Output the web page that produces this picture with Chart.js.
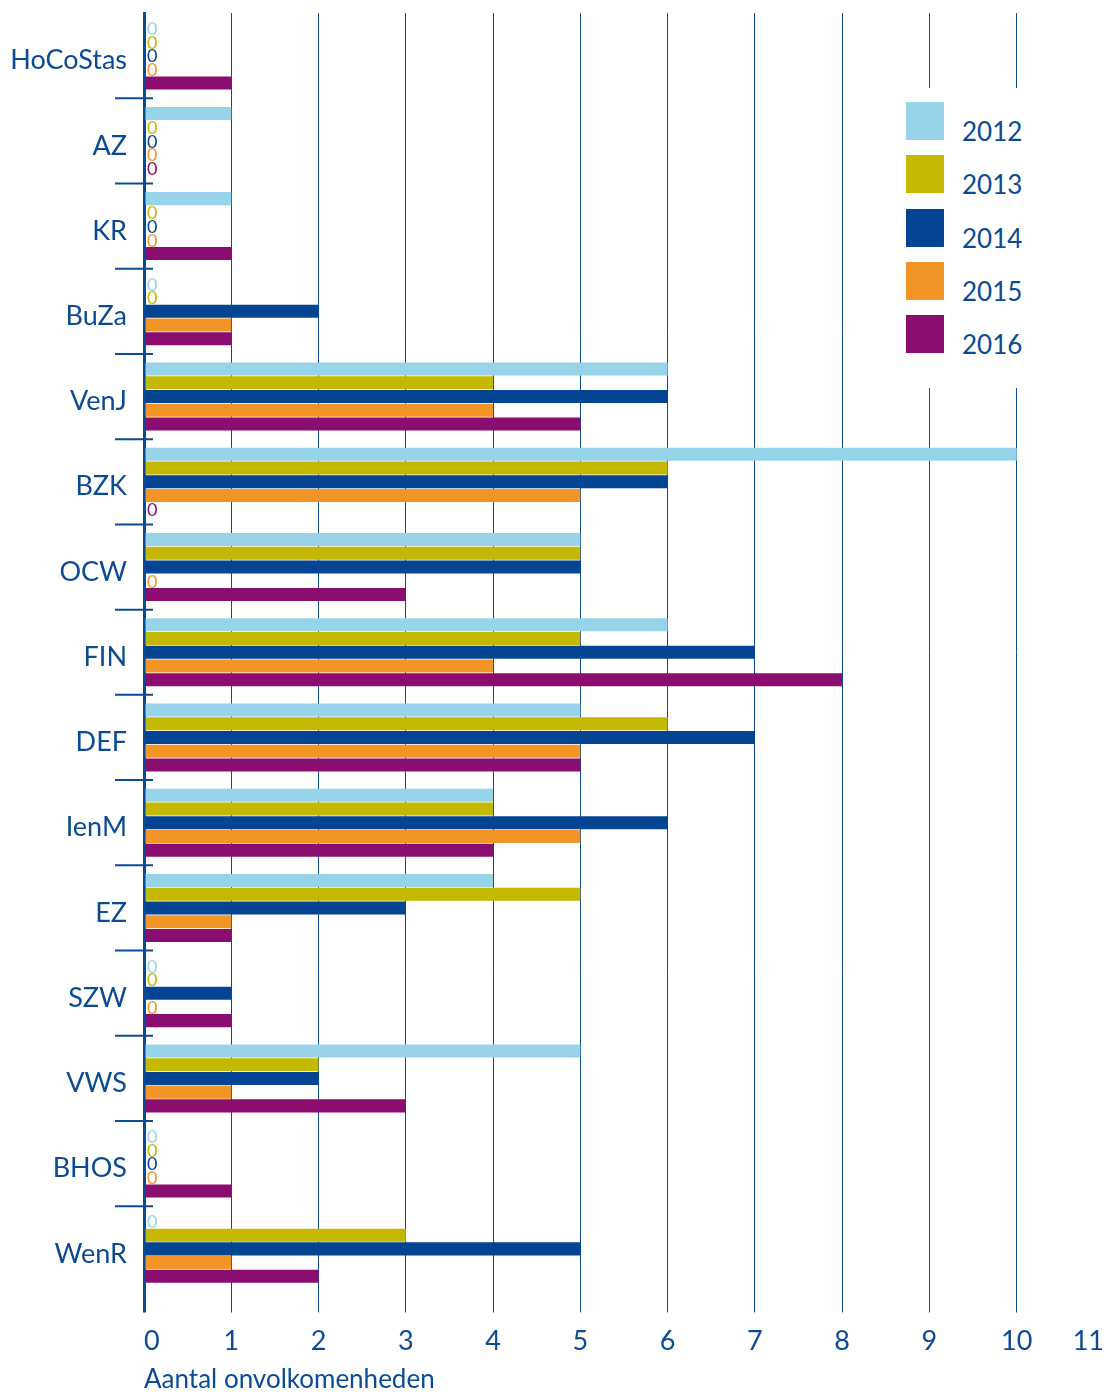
<!DOCTYPE html>
<html>
<head>
<meta charset="utf-8">
<script src="https://cdn.jsdelivr.net/npm/chart.js@4"></script>
<style>
    body { margin: 0; background: #fff; }
    #wrap { position: relative; width: 1104px; height: 1392px; }
    #legend {
        position: absolute; left: 890px; top: 88px; width: 150px; height: 300px;
        background: #fff; font-family: Lato, sans-serif; font-size: 26px; color: #0b4a94;
    }
    #legend .item { position: absolute; left: 16px; height: 38px; }
    #legend .box { position: absolute; left: 0; top: 0; width: 38px; height: 38px; }
    #legend .txt { position: absolute; left: 56px; top: 10px; line-height: 38px; }
</style>
</head>
<body>
<div id="wrap">
    <canvas id="myChart"></canvas>
    <div id="legend"></div>
</div>
<script>
const BLUE = '#0b4a94';

const labels = ['HoCoStas', 'AZ', 'KR', 'BuZa', 'VenJ', 'BZK', 'OCW', 'FIN', 'DEF', 'IenM', 'EZ', 'SZW', 'VWS', 'BHOS', 'WenR'];
const years = ['2012', '2013', '2014', '2015', '2016'];
const colors = ['#97d4e9', '#c4b800', '#034592', '#f39426', '#8b0d70'];

const v2012 = [0, 1, 1, 0, 6, 10, 5, 6, 5, 4, 4, 0, 5, 0, 0];
const v2013 = [0, 0, 0, 0, 4, 6, 5, 5, 6, 4, 5, 0, 2, 0, 3];
const v2014 = [0, 0, 0, 2, 6, 6, 5, 7, 7, 6, 3, 1, 2, 0, 5];
const v2015 = [0, 0, 0, 1, 4, 5, 0, 4, 5, 5, 1, 0, 1, 0, 1];
const v2016 = [1, 0, 1, 1, 5, 0, 3, 8, 5, 4, 1, 1, 3, 1, 2];
const values = [v2012, v2013, v2014, v2015, v2016];

const datasets = years.map(function (y, i) {
    return {
        label: y,
        data: values[i],
        backgroundColor: colors[i],
        borderWidth: 0,
        barPercentage: 0.95,
        categoryPercentage: 0.805
    };
});

// "0" labels next to the axis for empty values
const zeroLabels = {
    id: 'zeroLabels',
    afterDatasetsDraw: function (chart) {
        const ctx = chart.ctx;
        const x0 = chart.scales.x.getPixelForValue(0);
        ctx.save();
        ctx.font = '18px Lato, sans-serif';
        ctx.textBaseline = 'middle';
        ctx.textAlign = 'left';
        chart.data.datasets.forEach(function (ds, i) {
            const meta = chart.getDatasetMeta(i);
            ds.data.forEach(function (v, j) {
                if (v === 0) {
                    ctx.fillStyle = ds.backgroundColor;
                    ctx.fillText('0', x0 + 3, meta.data[j].y + 1);
                }
            });
        });
        ctx.restore();
    }
};

// short separators between categories on the y axis
const catTicks = {
    id: 'catTicks',
    afterDraw: function (chart) {
        const ctx = chart.ctx;
        const ys = chart.scales.y;
        const x0 = chart.scales.x.getPixelForValue(0);
        ctx.save();
        ctx.strokeStyle = BLUE;
        ctx.lineWidth = 2;
        for (let i = 1; i < labels.length; i++) {
            const y = (ys.getPixelForValue(i - 1) + ys.getPixelForValue(i)) / 2;
            ctx.beginPath();
            ctx.moveTo(x0 - 29, y);
            ctx.lineTo(x0 + 9, y);
            ctx.stroke();
        }
        ctx.restore();
    }
};

const config = {
    type: 'bar',
    data: { labels: labels, datasets: datasets },
    plugins: [zeroLabels, catTicks],
    options: {
        indexAxis: 'y',
        responsive: true,
        maintainAspectRatio: false,
        animation: false,
        layout: { padding: { top: 13, left: 0, right: 0, bottom: 0 } },
        plugins: {
            legend: { display: false },
            tooltip: { enabled: false }
        },
        scales: {
            x: {
                min: 0,
                max: 11,
                ticks: {
                    stepSize: 1,
                    color: BLUE,
                    font: { family: 'Lato', size: 27 },
                    padding: 13,
                    align: 'inner'
                },
                grid: {
                    color: function (c) { return c.tick && c.tick.value === 11 ? 'rgba(0,0,0,0)' : BLUE; },
                    lineWidth: function (c) { return c.tick && c.tick.value === 0 ? 3 : 1; },
                    tickLength: 21
                },
                border: { display: false },
                title: {
                    display: true,
                    text: 'Aantal onvolkomenheden',
                    align: 'start',
                    color: BLUE,
                    font: { family: 'Lato', size: 26 },
                    padding: { top: 0, bottom: -3 }
                },
                afterFit: function (scale) {
                    scale.height = 100.5;
                    scale.paddingLeft = 0;
                    scale.paddingRight = 0;
                }
            },
            y: {
                ticks: {
                    color: BLUE,
                    font: { family: 'Lato', size: 27 },
                    padding: 9,
                    labelOffset: 5
                },
                grid: { display: false },
                border: { display: true, color: BLUE, width: 3 },
                afterFit: function (scale) {
                    scale.width = 144;
                    scale.paddingTop = 0;
                    scale.paddingBottom = 0;
                }
            }
        }
    }
};

const myChart = new Chart(
    document.getElementById('myChart'),
    config
);

// html legend in the upper right corner
const legendEl = document.getElementById('legend');
years.forEach(function (y, i) {
    const item = document.createElement('div');
    item.className = 'item';
    item.style.top = (14 + i * 53.25) + 'px';
    item.innerHTML = '<div class="box" style="background:' + colors[i] + '"></div><div class="txt">' + y + '</div>';
    legendEl.appendChild(item);
});
</script>
</body>
</html>
